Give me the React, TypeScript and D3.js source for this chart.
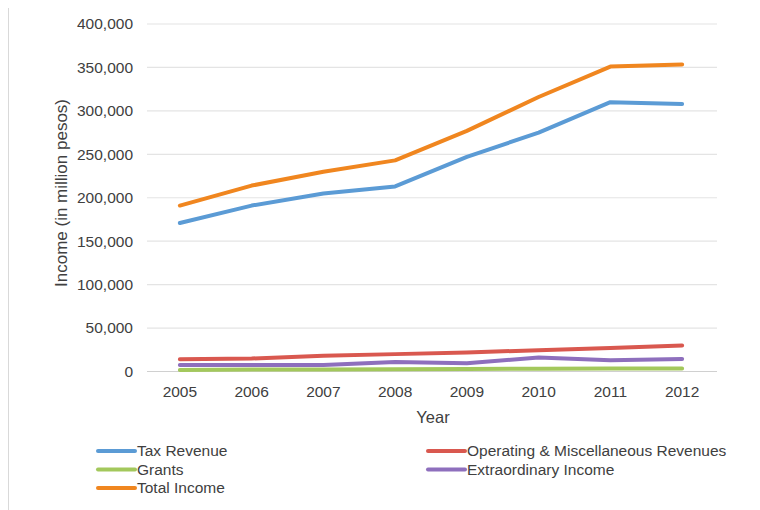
import React from "react";
import * as d3 from "d3";

const years = ["2005", "2006", "2007", "2008", "2009", "2010", "2011", "2012"];
const taxRevenue = [171000, 191000, 205000, 213000, 247000, 275000, 310000, 308000];
const operatingRevenues = [14000, 15000, 18000, 20000, 22000, 24500, 27000, 30000];
const grants = [1800, 2200, 2400, 2500, 3000, 3300, 3400, 3500];
const extraordinaryIncome = [7500, 7500, 7500, 11000, 9500, 16000, 13000, 14500];
const totalIncome = [191000, 214000, 230000, 243000, 277000, 316000, 351000, 353500];
const yTicks = [0, 50000, 100000, 150000, 200000, 250000, 300000, 350000, 400000];

const seriesNames = [
  "Tax Revenue",
  "Operating & Miscellaneous Revenues",
  "Grants",
  "Extraordinary Income",
  "Total Income",
];
const seriesColors = ["#5b9bd5", "#d9584f", "#a3c85c", "#8e6fbd", "#f0861f"];
const seriesData = [taxRevenue, operatingRevenues, grants, extraordinaryIncome, totalIncome];
// drawing order (so Total on top etc.)
const drawOrder = [2, 3, 1, 0, 4];

const W = 760;
const H = 510;
const left = 144;
const right = 718;
const top = 24;
const bottom = 371.5;
const font = "'Liberation Sans', Arial, sans-serif";
const textColor = "#404040";

export default function App() {
  const x = d3.scalePoint<string>().domain(years).range([left, right]).padding(0.5);
  const y = d3.scaleLinear().domain([0, 400000]).range([bottom, top]);
  const line = d3
    .line<number>()
    .x((_, i) => x(years[i]) as number)
    .y((d) => y(d));
  const fmt = d3.format(",");

  const legendItems = [
    { idx: 0, lx: 98, ly: 451 },
    { idx: 1, lx: 428, ly: 451 },
    { idx: 2, lx: 98, ly: 469.5 },
    { idx: 3, lx: 428, ly: 469.5 },
    { idx: 4, lx: 98, ly: 488 },
  ];

  return (
    <svg
      width={W}
      height={H}
      style={{ position: "absolute", left: 0, top: 0, background: "#fff" }}
      fontFamily={font}
    >
      <rect x={0} y={0} width={W} height={H} fill="#fff" />
      <line x1={8.5} x2={8.5} y1={8} y2={H} stroke="#d9d9d9" strokeWidth={1} />
      {yTicks.map((t) => (
        <g key={t}>
          <line
            x1={left + 3}
            x2={right - 1}
            y1={y(t)}
            y2={y(t)}
            stroke={t === 0 ? "#d0d0d0" : "#e4e4e4"}
            strokeWidth={1.2}
          />
          <text
            x={133}
            y={y(t)}
            dy="0.35em"
            textAnchor="end"
            fontSize={15.5}
            fill={textColor}
          >
            {fmt(t)}
          </text>
        </g>
      ))}
      {years.map((yr) => (
        <text
          key={yr}
          x={x(yr)}
          y={392}
          dy="0.35em"
          textAnchor="middle"
          fontSize={15.5}
          fill={textColor}
        >
          {yr}
        </text>
      ))}
      <text x={433} y={417} dy="0.35em" textAnchor="middle" fontSize={16.5} fill={textColor}>
        Year
      </text>
      <text
        transform={`translate(61,193) rotate(-90)`}
        dy="0.35em"
        textAnchor="middle"
        fontSize={17}
        fill={textColor}
      >
        Income (in million pesos)
      </text>
      {drawOrder.map((i) => (
        <path
          key={i}
          d={line(seriesData[i]) || ""}
          fill="none"
          stroke={seriesColors[i]}
          strokeWidth={4}
          strokeLinejoin="round"
          strokeLinecap="round"
        />
      ))}
      {legendItems.map(({ idx, lx, ly }) => (
        <g key={idx}>
          <line
            x1={lx}
            x2={lx + 37}
            y1={ly}
            y2={ly}
            stroke={seriesColors[idx]}
            strokeWidth={4}
            strokeLinecap="round"
          />
          <text x={lx + 39} y={ly} dy="0.35em" fontSize={15.5} fill={textColor}>
            {seriesNames[idx]}
          </text>
        </g>
      ))}
    </svg>
  );
}
